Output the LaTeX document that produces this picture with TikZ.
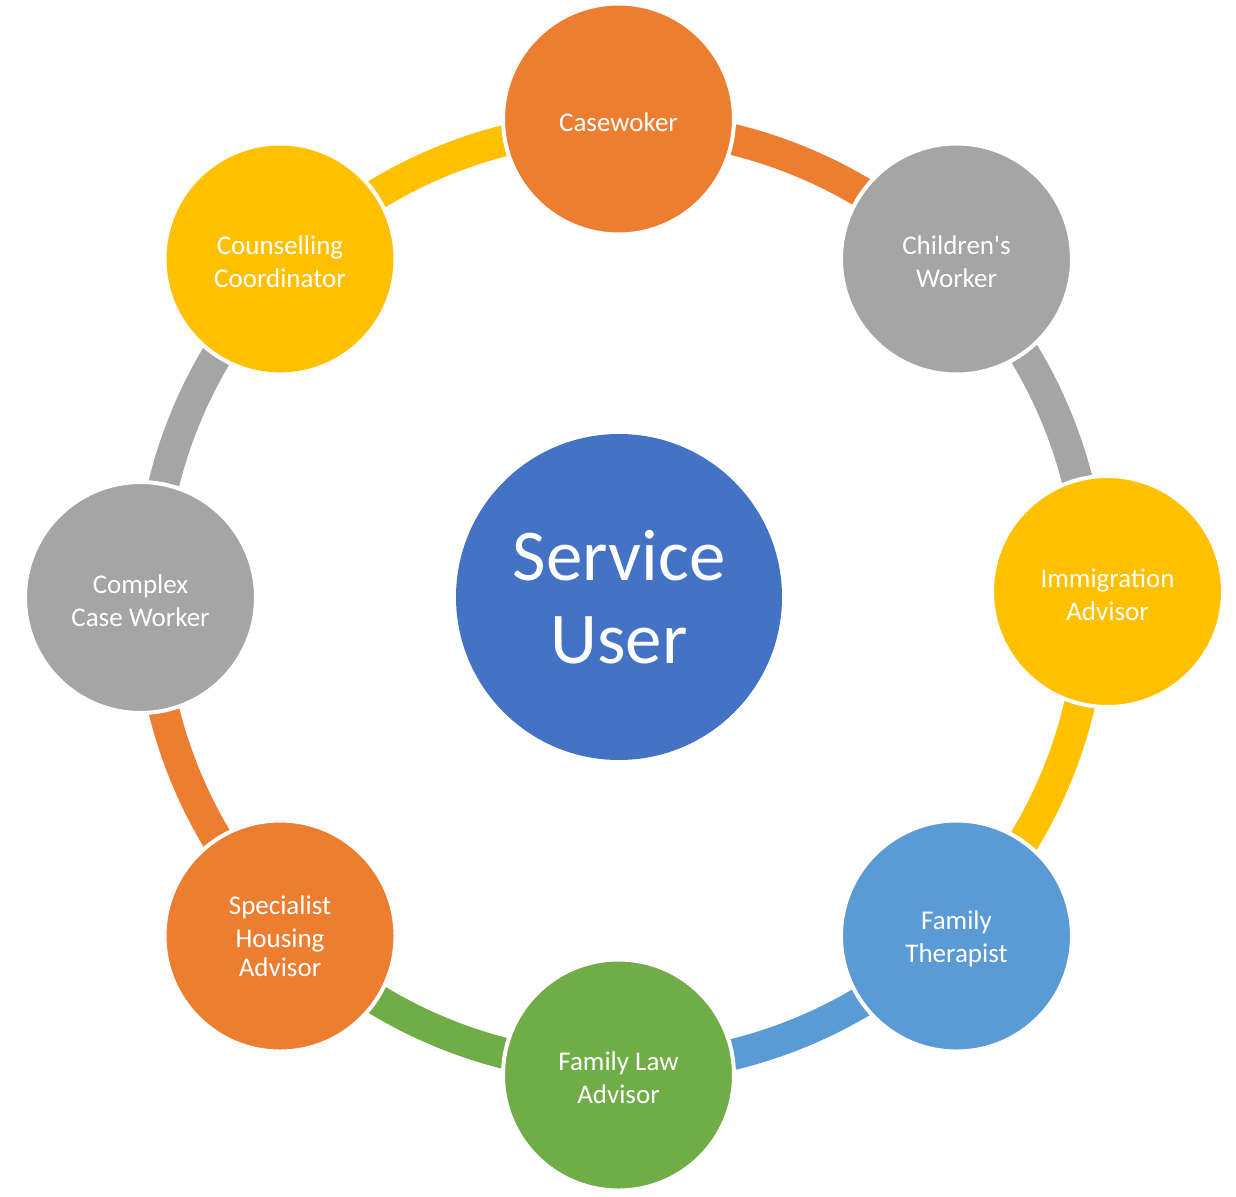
\documentclass[tikz,border=0pt]{standalone}
\usepackage{fontspec}
\newfontfamily\lbl{Carlito}
\usetikzlibrary{calc}
\definecolor{cOrange}{HTML}{ED7D31}
\definecolor{cGray}{HTML}{A5A5A5}
\definecolor{cYellow}{HTML}{FFC000}
\definecolor{cBlue}{HTML}{4472C4}
\definecolor{cLBlue}{HTML}{5B9BD5}
\definecolor{cGreen}{HTML}{70AD47}
\begin{document}
\begin{tikzpicture}[x=1pt,y=1pt,
  member/.style={circle, draw=white, line width=4pt, minimum size=231pt, inner sep=0pt,
    text=white, align=center, font=\lbl\fontsize{27}{33}\selectfont},
  lbl/.style={text=white, align=center, font=\lbl\fontsize{27}{33}\selectfont, inner sep=0pt},
  hub/.style={circle, fill=cBlue, minimum size=326pt, inner sep=0pt,
    text=white, align=center, font=\lbl\fontsize{73}{83}\selectfont},
  band/.style={line width=31pt}]
\useasboundingbox (0,0) rectangle (1236,-1196);
\coordinate (C) at (621,-597);
\foreach \a/\n in {90/r1,45/r2,0/r3,-45/r4,-90/r5,-135/r6,-180/r7,-225/r8}
  \coordinate (\n) at ($(C)+(\a:471)$);
% ring bands
\draw[band, cOrange] (r1) arc[start angle=90, end angle=45, radius=471];
\draw[band, cGray]   (r2) arc[start angle=45, end angle=0, radius=471];
\draw[band, cYellow] (r3) arc[start angle=0, end angle=-45, radius=471];
\draw[band, cLBlue]  (r4) arc[start angle=-45, end angle=-90, radius=471];
\draw[band, cGreen]  (r5) arc[start angle=-90, end angle=-135, radius=471];
\draw[band, cOrange] (r6) arc[start angle=-135, end angle=-180, radius=471];
\draw[band, cGray]   (r7) arc[start angle=-180, end angle=-225, radius=471];
\draw[band, cYellow] (r8) arc[start angle=135, end angle=90, radius=471];
% circles
\node[hub] (su) at (619,-597) {Service\\User};
\node[member, fill=cOrange] (cw) at (618.5,-119) {};
\node[member, fill=cGray] (ch) at (956.5,-259) {};
\node[member, fill=cYellow] (im) at (1107.5,-591.5) {};
\node[member, fill=cLBlue] (ft) at (956.5,-936) {};
\node[member, fill=cGreen] (fl) at (618.5,-1075) {};
\node[member, fill=cOrange] (sh) at (280,-936) {};
\node[member, fill=cGray] (cc) at (140.5,-597.5) {};
\node[member, fill=cYellow] (co) at (280,-259) {};
% labels
\node[lbl] (tcw) at ([yshift=-3pt]cw.center) {Casewoker};
\node[lbl] (tch) at ([yshift=-3pt]ch.center) {Children's\\Worker};
\node[lbl] (tim) at ([yshift=-3pt]im.center) {Immigration\\Advisor};
\node[lbl] (tft) at ([yshift=-3pt]ft.center) {Family\\Therapist};
\node[lbl] (tfl) at ([yshift=-3pt]fl.center) {Family Law\\Advisor};
\node[lbl] (tsh) at ([yshift=0pt]sh.center) {Specialist\\Housing\\[-4pt]Advisor};
\node[lbl] (tcc) at ([yshift=-3pt]cc.center) {Complex\\Case Worker};
\node[lbl] (tco) at ([yshift=-3pt]co.center) {Counselling\\Coordinator};
\end{tikzpicture}
\end{document}
